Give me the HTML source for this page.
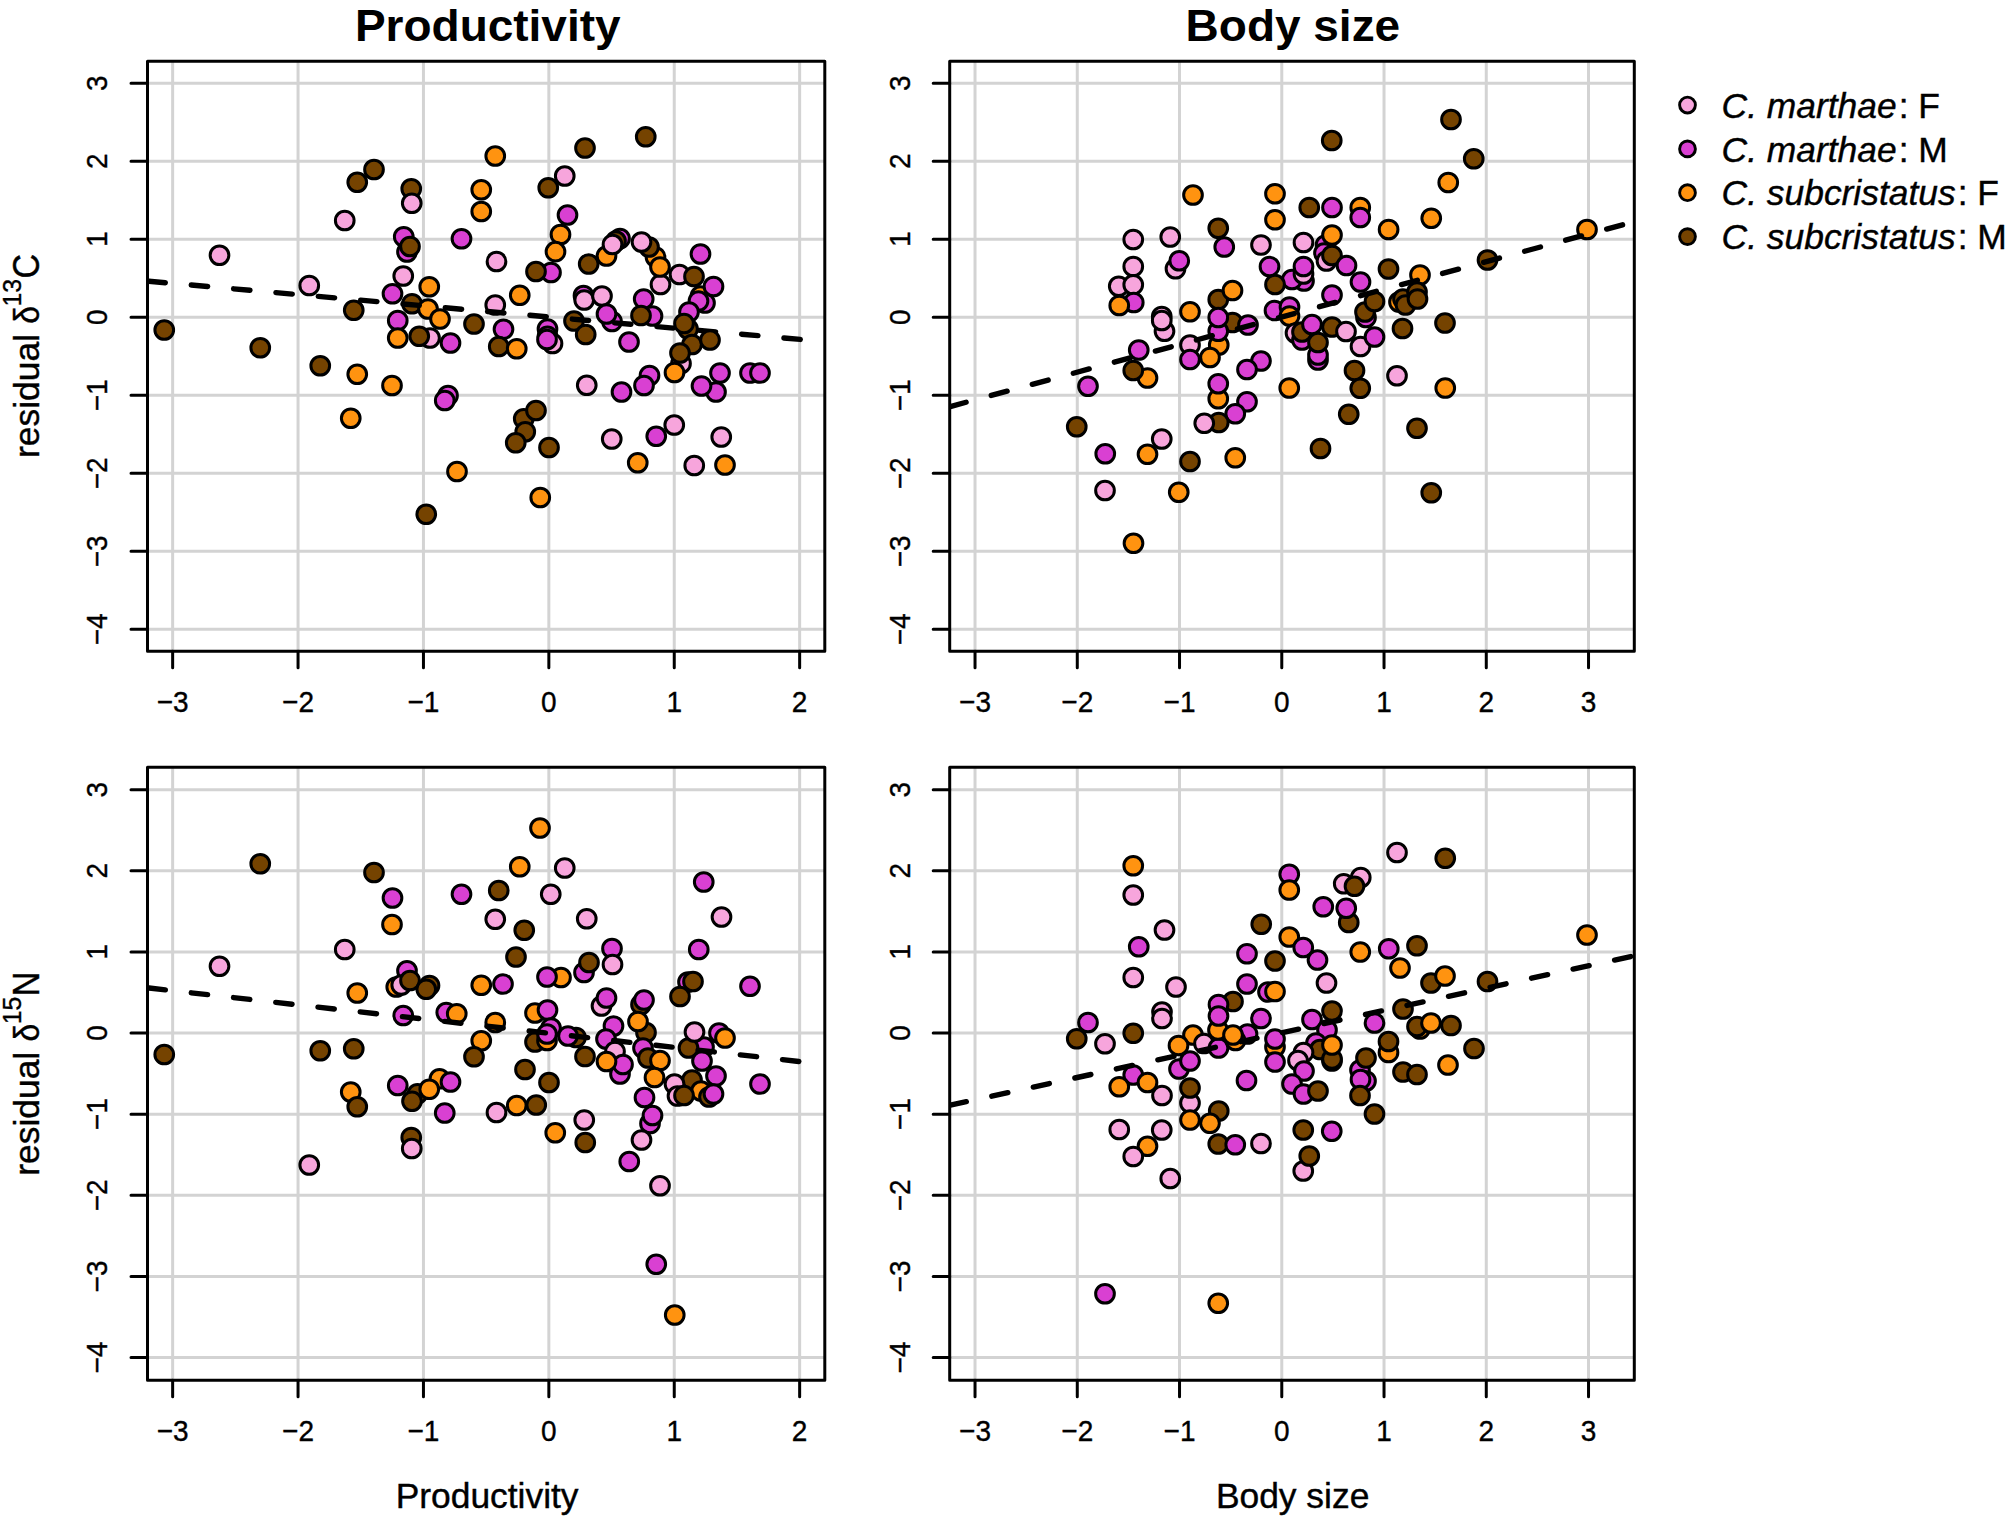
<!DOCTYPE html>
<html lang="en"><head><meta charset="utf-8"><title>Residual isotope values vs productivity and body size</title>
<style>html,body{margin:0;padding:0;background:#fff}svg{display:block}text{font-family:"Liberation Sans", Arial, Helvetica, sans-serif;fill:#000}.pt circle{stroke:#000;stroke-width:3}.cP{fill:#F7A5DC}.cM{fill:#D940D2}.cO{fill:#FF9310}.cB{fill:#754300}.ax{font-size:28px;stroke:#000;stroke-width:.35px}.sup{font-size:24.8px;stroke:#000;stroke-width:.35px}.lab{font-size:35.4px;stroke:#000;stroke-width:.4px}.ttl{font-size:44.6px;font-weight:bold}.fr{fill:none;stroke:#000;stroke-width:3;stroke-linejoin:round}.tk{stroke:#000;stroke-width:3;stroke-linecap:round;fill:none}.gr{stroke:#D3D3D3;stroke-width:3;fill:none}.rl{stroke:#000;stroke-width:5.4;stroke-linecap:round;fill:none}</style></head><body>
<svg width="2006" height="1520" viewBox="0 0 2006 1520">
<rect width="2006" height="1520" fill="#fff"/>
<defs><clipPath id="cp1"><rect x="147.5" y="61.3" width="677.3" height="589.9"/></clipPath></defs>
<g clip-path="url(#cp1)">
<path class="gr" d="M172.65 61.3V651.2M298.05 61.3V651.2M423.45 61.3V651.2M548.85 61.3V651.2M674.25 61.3V651.2M799.65 61.3V651.2M147.5 629.37H824.8M147.5 551.34H824.8M147.5 473.31H824.8M147.5 395.28H824.8M147.5 317.25H824.8M147.5 239.22H824.8M147.5 161.19H824.8M147.5 83.16H824.8"/>
<g class="pt">
<circle class="cB" cx="164.25" cy="330" r="9.35"/>
<circle class="cP" cx="219.5" cy="255.25" r="9.35"/>
<circle class="cB" cx="260.25" cy="347.75" r="9.35"/>
<circle class="cB" cx="320.25" cy="365.75" r="9.35"/>
<circle class="cP" cx="344.75" cy="220.5" r="9.35"/>
<circle class="cB" cx="357.25" cy="182.25" r="9.35"/>
<circle class="cB" cx="374" cy="169.5" r="9.35"/>
<circle class="cB" cx="353.75" cy="310.25" r="9.35"/>
<circle class="cO" cx="357.25" cy="374.25" r="9.35"/>
<circle class="cO" cx="350.75" cy="418.25" r="9.35"/>
<circle class="cO" cx="392" cy="385.5" r="9.35"/>
<circle class="cB" cx="411.25" cy="188.75" r="9.35"/>
<circle class="cP" cx="411.75" cy="203.25" r="9.35"/>
<circle class="cM" cx="403.75" cy="236.75" r="9.35"/>
<circle class="cM" cx="407" cy="252" r="9.35"/>
<circle class="cB" cx="410" cy="246.5" r="9.35"/>
<circle class="cP" cx="403.25" cy="276" r="9.35"/>
<circle class="cM" cx="392.5" cy="293.75" r="9.35"/>
<circle class="cO" cx="429.25" cy="286.75" r="9.35"/>
<circle class="cB" cx="412" cy="303.75" r="9.35"/>
<circle class="cO" cx="428" cy="309" r="9.35"/>
<circle class="cO" cx="440" cy="319" r="9.35"/>
<circle class="cM" cx="397.75" cy="320.5" r="9.35"/>
<circle class="cO" cx="397.75" cy="338" r="9.35"/>
<circle class="cP" cx="430" cy="338" r="9.35"/>
<circle class="cB" cx="419.25" cy="336.25" r="9.35"/>
<circle class="cM" cx="450.5" cy="343" r="9.35"/>
<circle class="cB" cx="474" cy="324" r="9.35"/>
<circle class="cM" cx="461.5" cy="238.75" r="9.35"/>
<circle class="cO" cx="481.25" cy="189.75" r="9.35"/>
<circle class="cO" cx="481.25" cy="211.5" r="9.35"/>
<circle class="cO" cx="495.25" cy="156" r="9.35"/>
<circle class="cP" cx="496.5" cy="261.5" r="9.35"/>
<circle class="cP" cx="495.25" cy="305" r="9.35"/>
<circle class="cM" cx="503.5" cy="329.25" r="9.35"/>
<circle class="cB" cx="498.75" cy="346.5" r="9.35"/>
<circle class="cO" cx="516.75" cy="348.75" r="9.35"/>
<circle class="cO" cx="519.75" cy="295.25" r="9.35"/>
<circle class="cM" cx="448" cy="395.5" r="9.35"/>
<circle class="cM" cx="444.75" cy="400.5" r="9.35"/>
<circle class="cM" cx="551" cy="272.5" r="9.35"/>
<circle class="cB" cx="536" cy="271.5" r="9.35"/>
<circle class="cB" cx="548.25" cy="187.75" r="9.35"/>
<circle class="cP" cx="564.75" cy="176" r="9.35"/>
<circle class="cM" cx="567.5" cy="215" r="9.35"/>
<circle class="cO" cx="560.5" cy="234.5" r="9.35"/>
<circle class="cO" cx="555.5" cy="251.7" r="9.35"/>
<circle class="cB" cx="585" cy="148" r="9.35"/>
<circle class="cB" cx="588.7" cy="264" r="9.35"/>
<circle class="cO" cx="606.5" cy="256" r="9.35"/>
<circle class="cM" cx="620" cy="238.5" r="9.35"/>
<circle class="cB" cx="616" cy="241" r="9.35"/>
<circle class="cP" cx="612.5" cy="244.5" r="9.35"/>
<circle class="cO" cx="655.5" cy="257" r="9.35"/>
<circle class="cB" cx="649" cy="247" r="9.35"/>
<circle class="cP" cx="641.5" cy="242" r="9.35"/>
<circle class="cP" cx="660.5" cy="284.5" r="9.35"/>
<circle class="cO" cx="660" cy="267" r="9.35"/>
<circle class="cP" cx="679.5" cy="274.5" r="9.35"/>
<circle class="cB" cx="694" cy="276.5" r="9.35"/>
<circle class="cM" cx="700.5" cy="254" r="9.35"/>
<circle class="cM" cx="583.5" cy="295.5" r="9.35"/>
<circle class="cP" cx="584.2" cy="300" r="9.35"/>
<circle class="cP" cx="602" cy="296" r="9.35"/>
<circle class="cM" cx="612" cy="321.5" r="9.35"/>
<circle class="cM" cx="606.5" cy="314" r="9.35"/>
<circle class="cB" cx="574" cy="321" r="9.35"/>
<circle class="cB" cx="585.7" cy="334.5" r="9.35"/>
<circle class="cM" cx="643.7" cy="299" r="9.35"/>
<circle class="cM" cx="652.5" cy="316" r="9.35"/>
<circle class="cM" cx="629" cy="342" r="9.35"/>
<circle class="cO" cx="700.5" cy="296" r="9.35"/>
<circle class="cM" cx="705" cy="303" r="9.35"/>
<circle class="cM" cx="698.5" cy="301" r="9.35"/>
<circle class="cM" cx="713.5" cy="286.5" r="9.35"/>
<circle class="cM" cx="689" cy="312" r="9.35"/>
<circle class="cB" cx="688" cy="329" r="9.35"/>
<circle class="cB" cx="692" cy="344.5" r="9.35"/>
<circle class="cP" cx="681" cy="363.5" r="9.35"/>
<circle class="cB" cx="680" cy="353" r="9.35"/>
<circle class="cO" cx="674.5" cy="372.5" r="9.35"/>
<circle class="cM" cx="547.5" cy="329" r="9.35"/>
<circle class="cM" cx="547.5" cy="336.3" r="9.35"/>
<circle class="cP" cx="552.5" cy="343.5" r="9.35"/>
<circle class="cM" cx="547" cy="339.5" r="9.35"/>
<circle class="cM" cx="649.5" cy="375.5" r="9.35"/>
<circle class="cM" cx="644" cy="385.5" r="9.35"/>
<circle class="cM" cx="621.5" cy="392" r="9.35"/>
<circle class="cM" cx="716" cy="392" r="9.35"/>
<circle class="cM" cx="701.5" cy="386" r="9.35"/>
<circle class="cM" cx="720" cy="373" r="9.35"/>
<circle class="cM" cx="750" cy="373" r="9.35"/>
<circle class="cM" cx="760" cy="373" r="9.35"/>
<circle class="cP" cx="586.75" cy="385.25" r="9.35"/>
<circle class="cB" cx="523.75" cy="418.75" r="9.35"/>
<circle class="cB" cx="536" cy="410.5" r="9.35"/>
<circle class="cB" cx="525.25" cy="431.75" r="9.35"/>
<circle class="cB" cx="515.75" cy="442.75" r="9.35"/>
<circle class="cB" cx="549" cy="447.5" r="9.35"/>
<circle class="cP" cx="611.75" cy="439" r="9.35"/>
<circle class="cP" cx="674.25" cy="425" r="9.35"/>
<circle class="cM" cx="656.25" cy="436.25" r="9.35"/>
<circle class="cP" cx="721.25" cy="437" r="9.35"/>
<circle class="cO" cx="457" cy="471.5" r="9.35"/>
<circle class="cO" cx="637.75" cy="462.75" r="9.35"/>
<circle class="cP" cx="694.25" cy="465.5" r="9.35"/>
<circle class="cO" cx="725" cy="465" r="9.35"/>
<circle class="cO" cx="540.25" cy="497.5" r="9.35"/>
<circle class="cB" cx="426.25" cy="514.25" r="9.35"/>
<circle class="cB" cx="645.75" cy="136.75" r="9.35"/>
</g>
<path class="rl" stroke-dasharray="16.4 26.1" stroke-dashoffset="-1.46" d="M147.5 281.14L824.5 341.59"/>
<g class="pt">
<circle class="cP" cx="309.25" cy="285.5" r="9.35"/>
<circle class="cB" cx="641" cy="315.5" r="9.35"/>
<circle class="cB" cx="684" cy="323.5" r="9.35"/>
<circle class="cB" cx="710" cy="340" r="9.35"/>
</g>
</g>
<rect class="fr" x="147.5" y="61.3" width="677.3" height="589.9"/>
<path class="tk" d="M172.65 651.2V667.7M298.05 651.2V667.7M423.45 651.2V667.7M548.85 651.2V667.7M674.25 651.2V667.7M799.65 651.2V667.7M147.5 629.37H131M147.5 551.34H131M147.5 473.31H131M147.5 395.28H131M147.5 317.25H131M147.5 239.22H131M147.5 161.19H131M147.5 83.16H131"/>
<text class="ax" text-anchor="middle" transform="translate(172.65 711.7) scale(1 1.06)">−3</text>
<text class="ax" text-anchor="middle" transform="translate(298.05 711.7) scale(1 1.06)">−2</text>
<text class="ax" text-anchor="middle" transform="translate(423.45 711.7) scale(1 1.06)">−1</text>
<text class="ax" text-anchor="middle" transform="translate(548.85 711.7) scale(1 1.06)">0</text>
<text class="ax" text-anchor="middle" transform="translate(674.25 711.7) scale(1 1.06)">1</text>
<text class="ax" text-anchor="middle" transform="translate(799.65 711.7) scale(1 1.06)">2</text>
<text class="ax" text-anchor="middle" transform="translate(107.3 629.37) rotate(-90) scale(1 1.06)">−4</text>
<text class="ax" text-anchor="middle" transform="translate(107.3 551.34) rotate(-90) scale(1 1.06)">−3</text>
<text class="ax" text-anchor="middle" transform="translate(107.3 473.31) rotate(-90) scale(1 1.06)">−2</text>
<text class="ax" text-anchor="middle" transform="translate(107.3 395.28) rotate(-90) scale(1 1.06)">−1</text>
<text class="ax" text-anchor="middle" transform="translate(107.3 317.25) rotate(-90) scale(1 1.06)">0</text>
<text class="ax" text-anchor="middle" transform="translate(107.3 239.22) rotate(-90) scale(1 1.06)">1</text>
<text class="ax" text-anchor="middle" transform="translate(107.3 161.19) rotate(-90) scale(1 1.06)">2</text>
<text class="ax" text-anchor="middle" transform="translate(107.3 83.16) rotate(-90) scale(1 1.06)">3</text>
<defs><clipPath id="cp2"><rect x="949.7" y="61.3" width="684.6" height="589.9"/></clipPath></defs>
<g clip-path="url(#cp2)">
<path class="gr" d="M975.03 61.3V651.2M1077.28 61.3V651.2M1179.53 61.3V651.2M1281.78 61.3V651.2M1384.03 61.3V651.2M1486.28 61.3V651.2M1588.53 61.3V651.2M949.7 629.37H1634.3M949.7 551.34H1634.3M949.7 473.31H1634.3M949.7 395.28H1634.3M949.7 317.25H1634.3M949.7 239.22H1634.3M949.7 161.19H1634.3M949.7 83.16H1634.3"/>
<g class="pt">
<circle class="cM" cx="1088" cy="386.25" r="9.35"/>
<circle class="cB" cx="1076.75" cy="426.75" r="9.35"/>
<circle class="cM" cx="1105.25" cy="453.75" r="9.35"/>
<circle class="cP" cx="1105" cy="490.5" r="9.35"/>
<circle class="cO" cx="1133.5" cy="543.25" r="9.35"/>
<circle class="cB" cx="1451" cy="119.5" r="9.35"/>
<circle class="cB" cx="1331.75" cy="140.5" r="9.35"/>
<circle class="cB" cx="1473.75" cy="158.75" r="9.35"/>
<circle class="cO" cx="1448.25" cy="182.5" r="9.35"/>
<circle class="cO" cx="1193" cy="195" r="9.35"/>
<circle class="cO" cx="1275" cy="193.75" r="9.35"/>
<circle class="cO" cx="1275" cy="219.75" r="9.35"/>
<circle class="cB" cx="1309.25" cy="207.5" r="9.35"/>
<circle class="cM" cx="1332" cy="207.5" r="9.35"/>
<circle class="cO" cx="1360.25" cy="207.5" r="9.35"/>
<circle class="cM" cx="1360.25" cy="217.5" r="9.35"/>
<circle class="cO" cx="1431.25" cy="218.25" r="9.35"/>
<circle class="cO" cx="1388.6" cy="229.5" r="9.35"/>
<circle class="cO" cx="1587" cy="229.5" r="9.35"/>
<circle class="cB" cx="1218.25" cy="228.25" r="9.35"/>
<circle class="cM" cx="1224.25" cy="247" r="9.35"/>
<circle class="cP" cx="1133.25" cy="239.5" r="9.35"/>
<circle class="cP" cx="1170.25" cy="237" r="9.35"/>
<circle class="cP" cx="1133.25" cy="266.5" r="9.35"/>
<circle class="cP" cx="1175.5" cy="268.75" r="9.35"/>
<circle class="cM" cx="1179.25" cy="260.75" r="9.35"/>
<circle class="cP" cx="1118.75" cy="286.25" r="9.35"/>
<circle class="cP" cx="1133.25" cy="284.75" r="9.35"/>
<circle class="cM" cx="1133.75" cy="302.5" r="9.35"/>
<circle class="cO" cx="1119.25" cy="305.5" r="9.35"/>
<circle class="cP" cx="1261" cy="245" r="9.35"/>
<circle class="cP" cx="1303.5" cy="242.5" r="9.35"/>
<circle class="cM" cx="1325.5" cy="245" r="9.35"/>
<circle class="cO" cx="1332" cy="235" r="9.35"/>
<circle class="cM" cx="1324" cy="253" r="9.35"/>
<circle class="cP" cx="1326.5" cy="261" r="9.35"/>
<circle class="cB" cx="1332" cy="255.5" r="9.35"/>
<circle class="cM" cx="1346.5" cy="265.5" r="9.35"/>
<circle class="cM" cx="1269.5" cy="266.5" r="9.35"/>
<circle class="cM" cx="1304" cy="281" r="9.35"/>
<circle class="cM" cx="1292" cy="279.5" r="9.35"/>
<circle class="cP" cx="1303.5" cy="274" r="9.35"/>
<circle class="cM" cx="1303.5" cy="266.5" r="9.35"/>
<circle class="cB" cx="1275" cy="284.5" r="9.35"/>
<circle class="cM" cx="1360.5" cy="282" r="9.35"/>
<circle class="cM" cx="1332" cy="295" r="9.35"/>
<circle class="cB" cx="1388.5" cy="269" r="9.35"/>
<circle class="cO" cx="1420" cy="275" r="9.35"/>
<circle class="cB" cx="1487.5" cy="260" r="9.35"/>
<circle class="cB" cx="1218.25" cy="299.5" r="9.35"/>
<circle class="cO" cx="1232.5" cy="290.5" r="9.35"/>
<circle class="cO" cx="1190" cy="311.75" r="9.35"/>
<circle class="cP" cx="1164.5" cy="331.25" r="9.35"/>
<circle class="cP" cx="1161.75" cy="316.5" r="9.35"/>
<circle class="cP" cx="1161.75" cy="320.5" r="9.35"/>
<circle class="cB" cx="1232.5" cy="322.5" r="9.35"/>
<circle class="cO" cx="1218.75" cy="345" r="9.35"/>
<circle class="cM" cx="1218.25" cy="331.25" r="9.35"/>
<circle class="cM" cx="1218.25" cy="317.5" r="9.35"/>
<circle class="cM" cx="1248" cy="325" r="9.35"/>
<circle class="cO" cx="1210" cy="357.5" r="9.35"/>
<circle class="cP" cx="1190" cy="345" r="9.35"/>
<circle class="cM" cx="1190" cy="359.5" r="9.35"/>
<circle class="cM" cx="1138.75" cy="350" r="9.35"/>
<circle class="cO" cx="1147.5" cy="378" r="9.35"/>
<circle class="cB" cx="1133.25" cy="370.5" r="9.35"/>
<circle class="cM" cx="1274.5" cy="310.5" r="9.35"/>
<circle class="cM" cx="1289.5" cy="307" r="9.35"/>
<circle class="cO" cx="1289.5" cy="316" r="9.35"/>
<circle class="cP" cx="1295.5" cy="333" r="9.35"/>
<circle class="cM" cx="1302" cy="340" r="9.35"/>
<circle class="cB" cx="1302" cy="332" r="9.35"/>
<circle class="cB" cx="1332" cy="327" r="9.35"/>
<circle class="cP" cx="1346" cy="331.5" r="9.35"/>
<circle class="cM" cx="1312" cy="324.5" r="9.35"/>
<circle class="cM" cx="1318" cy="360" r="9.35"/>
<circle class="cM" cx="1318" cy="355" r="9.35"/>
<circle class="cB" cx="1318" cy="342.5" r="9.35"/>
<circle class="cP" cx="1360.5" cy="346.5" r="9.35"/>
<circle class="cM" cx="1374.5" cy="337" r="9.35"/>
<circle class="cM" cx="1366" cy="317.5" r="9.35"/>
<circle class="cB" cx="1365" cy="312" r="9.35"/>
<circle class="cB" cx="1374.5" cy="301.5" r="9.35"/>
<circle class="cO" cx="1399" cy="302" r="9.35"/>
<circle class="cB" cx="1403" cy="299" r="9.35"/>
<circle class="cB" cx="1405.5" cy="305" r="9.35"/>
<circle class="cB" cx="1417" cy="292" r="9.35"/>
<circle class="cB" cx="1417.5" cy="299" r="9.35"/>
<circle class="cB" cx="1402.5" cy="328.5" r="9.35"/>
<circle class="cB" cx="1445" cy="323" r="9.35"/>
<circle class="cM" cx="1261" cy="361" r="9.35"/>
<circle class="cM" cx="1247" cy="369.5" r="9.35"/>
<circle class="cO" cx="1218.25" cy="398.75" r="9.35"/>
<circle class="cM" cx="1218.25" cy="383.75" r="9.35"/>
<circle class="cM" cx="1247" cy="401.75" r="9.35"/>
<circle class="cM" cx="1235.25" cy="413.75" r="9.35"/>
<circle class="cB" cx="1218.75" cy="422.5" r="9.35"/>
<circle class="cP" cx="1204.25" cy="423.25" r="9.35"/>
<circle class="cP" cx="1161.75" cy="439" r="9.35"/>
<circle class="cO" cx="1147.5" cy="454.25" r="9.35"/>
<circle class="cB" cx="1190" cy="461.5" r="9.35"/>
<circle class="cO" cx="1235.25" cy="457.75" r="9.35"/>
<circle class="cO" cx="1289.25" cy="388" r="9.35"/>
<circle class="cB" cx="1354.5" cy="370.5" r="9.35"/>
<circle class="cB" cx="1360.25" cy="388.25" r="9.35"/>
<circle class="cB" cx="1348.75" cy="414.25" r="9.35"/>
<circle class="cB" cx="1320.5" cy="448.5" r="9.35"/>
<circle class="cP" cx="1397" cy="375.75" r="9.35"/>
<circle class="cO" cx="1445.25" cy="388" r="9.35"/>
<circle class="cB" cx="1417" cy="428.25" r="9.35"/>
<circle class="cO" cx="1178.75" cy="492.25" r="9.35"/>
<circle class="cB" cx="1431.25" cy="492.75" r="9.35"/>
</g>
<path class="rl" stroke-dasharray="16.4 26.1" stroke-dashoffset="-0.26" d="M950 406.59L1634.5 221.57"/>
</g>
<rect class="fr" x="949.7" y="61.3" width="684.6" height="589.9"/>
<path class="tk" d="M975.03 651.2V667.7M1077.28 651.2V667.7M1179.53 651.2V667.7M1281.78 651.2V667.7M1384.03 651.2V667.7M1486.28 651.2V667.7M1588.53 651.2V667.7M949.7 629.37H933.2M949.7 551.34H933.2M949.7 473.31H933.2M949.7 395.28H933.2M949.7 317.25H933.2M949.7 239.22H933.2M949.7 161.19H933.2M949.7 83.16H933.2"/>
<text class="ax" text-anchor="middle" transform="translate(975.03 711.7) scale(1 1.06)">−3</text>
<text class="ax" text-anchor="middle" transform="translate(1077.28 711.7) scale(1 1.06)">−2</text>
<text class="ax" text-anchor="middle" transform="translate(1179.53 711.7) scale(1 1.06)">−1</text>
<text class="ax" text-anchor="middle" transform="translate(1281.78 711.7) scale(1 1.06)">0</text>
<text class="ax" text-anchor="middle" transform="translate(1384.03 711.7) scale(1 1.06)">1</text>
<text class="ax" text-anchor="middle" transform="translate(1486.28 711.7) scale(1 1.06)">2</text>
<text class="ax" text-anchor="middle" transform="translate(1588.53 711.7) scale(1 1.06)">3</text>
<text class="ax" text-anchor="middle" transform="translate(909.5 629.37) rotate(-90) scale(1 1.06)">−4</text>
<text class="ax" text-anchor="middle" transform="translate(909.5 551.34) rotate(-90) scale(1 1.06)">−3</text>
<text class="ax" text-anchor="middle" transform="translate(909.5 473.31) rotate(-90) scale(1 1.06)">−2</text>
<text class="ax" text-anchor="middle" transform="translate(909.5 395.28) rotate(-90) scale(1 1.06)">−1</text>
<text class="ax" text-anchor="middle" transform="translate(909.5 317.25) rotate(-90) scale(1 1.06)">0</text>
<text class="ax" text-anchor="middle" transform="translate(909.5 239.22) rotate(-90) scale(1 1.06)">1</text>
<text class="ax" text-anchor="middle" transform="translate(909.5 161.19) rotate(-90) scale(1 1.06)">2</text>
<text class="ax" text-anchor="middle" transform="translate(909.5 83.16) rotate(-90) scale(1 1.06)">3</text>
<defs><clipPath id="cp3"><rect x="147.5" y="767.3" width="677.3" height="612.9"/></clipPath></defs>
<g clip-path="url(#cp3)">
<path class="gr" d="M172.65 767.3V1380.2M298.05 767.3V1380.2M423.45 767.3V1380.2M548.85 767.3V1380.2M674.25 767.3V1380.2M799.65 767.3V1380.2M147.5 1357.57H824.8M147.5 1276.44H824.8M147.5 1195.31H824.8M147.5 1114.18H824.8M147.5 1033.05H824.8M147.5 951.92H824.8M147.5 870.79H824.8M147.5 789.66H824.8"/>
<g class="pt">
<circle class="cB" cx="164.25" cy="1054.5" r="9.35"/>
<circle class="cP" cx="219.5" cy="966.25" r="9.35"/>
<circle class="cB" cx="260.25" cy="863.75" r="9.35"/>
<circle class="cP" cx="309.25" cy="1165" r="9.35"/>
<circle class="cB" cx="320.25" cy="1050.75" r="9.35"/>
<circle class="cP" cx="344.75" cy="949.5" r="9.35"/>
<circle class="cB" cx="353.75" cy="1048.75" r="9.35"/>
<circle class="cO" cx="357.25" cy="993" r="9.35"/>
<circle class="cO" cx="350.75" cy="1092" r="9.35"/>
<circle class="cB" cx="357.25" cy="1106.75" r="9.35"/>
<circle class="cB" cx="374" cy="872.5" r="9.35"/>
<circle class="cM" cx="392.5" cy="898" r="9.35"/>
<circle class="cO" cx="392" cy="924.5" r="9.35"/>
<circle class="cM" cx="407" cy="970.75" r="9.35"/>
<circle class="cO" cx="396.25" cy="987" r="9.35"/>
<circle class="cP" cx="401.25" cy="985" r="9.35"/>
<circle class="cB" cx="410" cy="980.5" r="9.35"/>
<circle class="cB" cx="429.5" cy="985.5" r="9.35"/>
<circle class="cB" cx="426.25" cy="989.25" r="9.35"/>
<circle class="cM" cx="403.25" cy="1015.5" r="9.35"/>
<circle class="cM" cx="446.25" cy="1012.5" r="9.35"/>
<circle class="cO" cx="456.75" cy="1013.75" r="9.35"/>
<circle class="cM" cx="397.75" cy="1085.5" r="9.35"/>
<circle class="cB" cx="417.5" cy="1093.75" r="9.35"/>
<circle class="cO" cx="439.5" cy="1078.75" r="9.35"/>
<circle class="cO" cx="429.25" cy="1089.25" r="9.35"/>
<circle class="cM" cx="450.5" cy="1082" r="9.35"/>
<circle class="cB" cx="412" cy="1101.25" r="9.35"/>
<circle class="cM" cx="444.75" cy="1113" r="9.35"/>
<circle class="cB" cx="411.25" cy="1137.5" r="9.35"/>
<circle class="cP" cx="411.75" cy="1148.5" r="9.35"/>
<circle class="cM" cx="461.5" cy="894.25" r="9.35"/>
<circle class="cB" cx="498.75" cy="890.5" r="9.35"/>
<circle class="cO" cx="519.75" cy="866.75" r="9.35"/>
<circle class="cO" cx="540" cy="828" r="9.35"/>
<circle class="cP" cx="564.75" cy="868" r="9.35"/>
<circle class="cP" cx="550.75" cy="894.25" r="9.35"/>
<circle class="cP" cx="495.25" cy="919.25" r="9.35"/>
<circle class="cP" cx="586.75" cy="918.75" r="9.35"/>
<circle class="cB" cx="524.25" cy="930.25" r="9.35"/>
<circle class="cB" cx="516" cy="957" r="9.35"/>
<circle class="cO" cx="481.25" cy="985.25" r="9.35"/>
<circle class="cM" cx="503" cy="984" r="9.35"/>
<circle class="cO" cx="561" cy="977.5" r="9.35"/>
<circle class="cM" cx="547" cy="977" r="9.35"/>
<circle class="cM" cx="584" cy="972.5" r="9.35"/>
<circle class="cB" cx="589" cy="962.5" r="9.35"/>
<circle class="cM" cx="612" cy="948.5" r="9.35"/>
<circle class="cP" cx="612.5" cy="964.5" r="9.35"/>
<circle class="cP" cx="601.5" cy="1006" r="9.35"/>
<circle class="cM" cx="606.5" cy="998" r="9.35"/>
<circle class="cO" cx="535" cy="1013" r="9.35"/>
<circle class="cM" cx="547.5" cy="1010" r="9.35"/>
<circle class="cO" cx="495.25" cy="1022.5" r="9.35"/>
<circle class="cO" cx="481.25" cy="1040.75" r="9.35"/>
<circle class="cB" cx="474" cy="1056.75" r="9.35"/>
<circle class="cM" cx="551" cy="1028" r="9.35"/>
<circle class="cB" cx="535" cy="1042" r="9.35"/>
<circle class="cO" cx="547" cy="1040.5" r="9.35"/>
<circle class="cM" cx="547" cy="1034" r="9.35"/>
<circle class="cB" cx="576" cy="1037.5" r="9.35"/>
<circle class="cM" cx="568" cy="1036" r="9.35"/>
<circle class="cB" cx="585" cy="1056.5" r="9.35"/>
<circle class="cM" cx="613.5" cy="1026" r="9.35"/>
<circle class="cM" cx="606" cy="1039" r="9.35"/>
<circle class="cP" cx="615" cy="1051.5" r="9.35"/>
<circle class="cM" cx="620" cy="1074" r="9.35"/>
<circle class="cM" cx="623" cy="1064.5" r="9.35"/>
<circle class="cO" cx="606.5" cy="1061.5" r="9.35"/>
<circle class="cB" cx="525" cy="1069.5" r="9.35"/>
<circle class="cB" cx="549" cy="1082.5" r="9.35"/>
<circle class="cP" cx="496.5" cy="1112.5" r="9.35"/>
<circle class="cO" cx="516.75" cy="1105.5" r="9.35"/>
<circle class="cB" cx="536.25" cy="1105" r="9.35"/>
<circle class="cP" cx="584.25" cy="1120" r="9.35"/>
<circle class="cO" cx="555.25" cy="1132.75" r="9.35"/>
<circle class="cB" cx="585.25" cy="1142.5" r="9.35"/>
<circle class="cM" cx="629.25" cy="1161.5" r="9.35"/>
<circle class="cB" cx="641" cy="1004.5" r="9.35"/>
<circle class="cM" cx="644" cy="1000" r="9.35"/>
<circle class="cM" cx="688" cy="982" r="9.35"/>
<circle class="cB" cx="680" cy="996.5" r="9.35"/>
<circle class="cB" cx="693" cy="981.5" r="9.35"/>
<circle class="cB" cx="646" cy="1032.5" r="9.35"/>
<circle class="cO" cx="638" cy="1021.5" r="9.35"/>
<circle class="cM" cx="643" cy="1048" r="9.35"/>
<circle class="cB" cx="648" cy="1058" r="9.35"/>
<circle class="cO" cx="660" cy="1060.5" r="9.35"/>
<circle class="cO" cx="654.5" cy="1077.5" r="9.35"/>
<circle class="cM" cx="704" cy="1047" r="9.35"/>
<circle class="cB" cx="688.5" cy="1048" r="9.35"/>
<circle class="cP" cx="694.5" cy="1032" r="9.35"/>
<circle class="cM" cx="702" cy="1061" r="9.35"/>
<circle class="cM" cx="719" cy="1033" r="9.35"/>
<circle class="cO" cx="725" cy="1038" r="9.35"/>
<circle class="cM" cx="716" cy="1076" r="9.35"/>
<circle class="cB" cx="692" cy="1080" r="9.35"/>
<circle class="cO" cx="701" cy="1091" r="9.35"/>
<circle class="cB" cx="709" cy="1097" r="9.35"/>
<circle class="cM" cx="713.5" cy="1094" r="9.35"/>
<circle class="cP" cx="674.5" cy="1084" r="9.35"/>
<circle class="cP" cx="677.5" cy="1096" r="9.35"/>
<circle class="cB" cx="684" cy="1095.5" r="9.35"/>
<circle class="cM" cx="760" cy="1084" r="9.35"/>
<circle class="cM" cx="644.5" cy="1097.5" r="9.35"/>
<circle class="cM" cx="650" cy="1123.5" r="9.35"/>
<circle class="cM" cx="652.5" cy="1115.5" r="9.35"/>
<circle class="cP" cx="641.5" cy="1140" r="9.35"/>
<circle class="cM" cx="703.75" cy="882" r="9.35"/>
<circle class="cP" cx="721.5" cy="917" r="9.35"/>
<circle class="cM" cx="698.75" cy="949.5" r="9.35"/>
<circle class="cM" cx="750" cy="986.25" r="9.35"/>
<circle class="cP" cx="660" cy="1185.75" r="9.35"/>
<circle class="cM" cx="656.25" cy="1264.25" r="9.35"/>
<circle class="cO" cx="674.75" cy="1315" r="9.35"/>
</g>
<path class="rl" stroke-dasharray="16.4 26.1" stroke-dashoffset="-1.57" d="M147.5 987.86L824.5 1064.36"/>
</g>
<rect class="fr" x="147.5" y="767.3" width="677.3" height="612.9"/>
<path class="tk" d="M172.65 1380.2V1396.7M298.05 1380.2V1396.7M423.45 1380.2V1396.7M548.85 1380.2V1396.7M674.25 1380.2V1396.7M799.65 1380.2V1396.7M147.5 1357.57H131M147.5 1276.44H131M147.5 1195.31H131M147.5 1114.18H131M147.5 1033.05H131M147.5 951.92H131M147.5 870.79H131M147.5 789.66H131"/>
<text class="ax" text-anchor="middle" transform="translate(172.65 1440.7) scale(1 1.06)">−3</text>
<text class="ax" text-anchor="middle" transform="translate(298.05 1440.7) scale(1 1.06)">−2</text>
<text class="ax" text-anchor="middle" transform="translate(423.45 1440.7) scale(1 1.06)">−1</text>
<text class="ax" text-anchor="middle" transform="translate(548.85 1440.7) scale(1 1.06)">0</text>
<text class="ax" text-anchor="middle" transform="translate(674.25 1440.7) scale(1 1.06)">1</text>
<text class="ax" text-anchor="middle" transform="translate(799.65 1440.7) scale(1 1.06)">2</text>
<text class="ax" text-anchor="middle" transform="translate(107.3 1357.57) rotate(-90) scale(1 1.06)">−4</text>
<text class="ax" text-anchor="middle" transform="translate(107.3 1276.44) rotate(-90) scale(1 1.06)">−3</text>
<text class="ax" text-anchor="middle" transform="translate(107.3 1195.31) rotate(-90) scale(1 1.06)">−2</text>
<text class="ax" text-anchor="middle" transform="translate(107.3 1114.18) rotate(-90) scale(1 1.06)">−1</text>
<text class="ax" text-anchor="middle" transform="translate(107.3 1033.05) rotate(-90) scale(1 1.06)">0</text>
<text class="ax" text-anchor="middle" transform="translate(107.3 951.92) rotate(-90) scale(1 1.06)">1</text>
<text class="ax" text-anchor="middle" transform="translate(107.3 870.79) rotate(-90) scale(1 1.06)">2</text>
<text class="ax" text-anchor="middle" transform="translate(107.3 789.66) rotate(-90) scale(1 1.06)">3</text>
<defs><clipPath id="cp4"><rect x="949.7" y="767.3" width="684.6" height="612.9"/></clipPath></defs>
<g clip-path="url(#cp4)">
<path class="gr" d="M975.03 767.3V1380.2M1077.28 767.3V1380.2M1179.53 767.3V1380.2M1281.78 767.3V1380.2M1384.03 767.3V1380.2M1486.28 767.3V1380.2M1588.53 767.3V1380.2M949.7 1357.57H1634.3M949.7 1276.44H1634.3M949.7 1195.31H1634.3M949.7 1114.18H1634.3M949.7 1033.05H1634.3M949.7 951.92H1634.3M949.7 870.79H1634.3M949.7 789.66H1634.3"/>
<g class="pt">
<circle class="cM" cx="1088" cy="1022.5" r="9.35"/>
<circle class="cB" cx="1076.75" cy="1038.75" r="9.35"/>
<circle class="cP" cx="1105" cy="1043.75" r="9.35"/>
<circle class="cM" cx="1105" cy="1293.75" r="9.35"/>
<circle class="cO" cx="1133.25" cy="865.75" r="9.35"/>
<circle class="cP" cx="1133.25" cy="895" r="9.35"/>
<circle class="cP" cx="1164.5" cy="930" r="9.35"/>
<circle class="cM" cx="1138.75" cy="946.75" r="9.35"/>
<circle class="cP" cx="1133.25" cy="977.5" r="9.35"/>
<circle class="cP" cx="1176" cy="987" r="9.35"/>
<circle class="cP" cx="1162" cy="1012" r="9.35"/>
<circle class="cP" cx="1162" cy="1018.5" r="9.35"/>
<circle class="cB" cx="1133.25" cy="1033.25" r="9.35"/>
<circle class="cM" cx="1133.25" cy="1075" r="9.35"/>
<circle class="cO" cx="1119.25" cy="1086.75" r="9.35"/>
<circle class="cO" cx="1147.5" cy="1082.5" r="9.35"/>
<circle class="cP" cx="1162" cy="1095.5" r="9.35"/>
<circle class="cP" cx="1119.25" cy="1129.5" r="9.35"/>
<circle class="cP" cx="1161.75" cy="1130" r="9.35"/>
<circle class="cO" cx="1147.5" cy="1146.25" r="9.35"/>
<circle class="cP" cx="1133.25" cy="1156.5" r="9.35"/>
<circle class="cP" cx="1170.25" cy="1178.5" r="9.35"/>
<circle class="cP" cx="1190" cy="1103" r="9.35"/>
<circle class="cB" cx="1190" cy="1088" r="9.35"/>
<circle class="cO" cx="1190" cy="1120" r="9.35"/>
<circle class="cB" cx="1218.75" cy="1111" r="9.35"/>
<circle class="cO" cx="1210" cy="1123.25" r="9.35"/>
<circle class="cB" cx="1218.25" cy="1144" r="9.35"/>
<circle class="cM" cx="1235.25" cy="1144.75" r="9.35"/>
<circle class="cP" cx="1261" cy="1143.5" r="9.35"/>
<circle class="cM" cx="1246.5" cy="1080.5" r="9.35"/>
<circle class="cM" cx="1179" cy="1069" r="9.35"/>
<circle class="cM" cx="1190" cy="1061" r="9.35"/>
<circle class="cO" cx="1193" cy="1035" r="9.35"/>
<circle class="cO" cx="1178.5" cy="1045.5" r="9.35"/>
<circle class="cP" cx="1204" cy="1043.5" r="9.35"/>
<circle class="cM" cx="1218.5" cy="1048" r="9.35"/>
<circle class="cO" cx="1218" cy="1030" r="9.35"/>
<circle class="cM" cx="1247.5" cy="1034" r="9.35"/>
<circle class="cO" cx="1235.5" cy="1040.5" r="9.35"/>
<circle class="cO" cx="1233" cy="1035" r="9.35"/>
<circle class="cB" cx="1233" cy="1001.5" r="9.35"/>
<circle class="cM" cx="1218.5" cy="1004.5" r="9.35"/>
<circle class="cM" cx="1218.5" cy="1016" r="9.35"/>
<circle class="cM" cx="1261" cy="1018.5" r="9.35"/>
<circle class="cM" cx="1247" cy="984" r="9.35"/>
<circle class="cM" cx="1247" cy="953.75" r="9.35"/>
<circle class="cB" cx="1261.25" cy="924.25" r="9.35"/>
<circle class="cB" cx="1275" cy="961" r="9.35"/>
<circle class="cM" cx="1268" cy="992" r="9.35"/>
<circle class="cO" cx="1275" cy="991.5" r="9.35"/>
<circle class="cM" cx="1289.25" cy="874.25" r="9.35"/>
<circle class="cO" cx="1289.25" cy="890" r="9.35"/>
<circle class="cO" cx="1289.25" cy="937" r="9.35"/>
<circle class="cM" cx="1303.25" cy="947.5" r="9.35"/>
<circle class="cM" cx="1317.5" cy="960" r="9.35"/>
<circle class="cM" cx="1323.25" cy="906.75" r="9.35"/>
<circle class="cB" cx="1348.75" cy="922.5" r="9.35"/>
<circle class="cM" cx="1346.25" cy="908.25" r="9.35"/>
<circle class="cP" cx="1343.75" cy="883.75" r="9.35"/>
<circle class="cP" cx="1360.75" cy="877.5" r="9.35"/>
<circle class="cB" cx="1354.5" cy="886.25" r="9.35"/>
<circle class="cP" cx="1397" cy="852.5" r="9.35"/>
<circle class="cB" cx="1445.25" cy="858.25" r="9.35"/>
<circle class="cO" cx="1360.25" cy="952" r="9.35"/>
<circle class="cM" cx="1388.75" cy="948.75" r="9.35"/>
<circle class="cB" cx="1417" cy="945.75" r="9.35"/>
<circle class="cO" cx="1587" cy="935" r="9.35"/>
<circle class="cO" cx="1400" cy="968" r="9.35"/>
<circle class="cB" cx="1431" cy="983" r="9.35"/>
<circle class="cO" cx="1445" cy="976" r="9.35"/>
<circle class="cB" cx="1487.5" cy="981.5" r="9.35"/>
<circle class="cP" cx="1326.5" cy="983" r="9.35"/>
<circle class="cM" cx="1312" cy="1019.5" r="9.35"/>
<circle class="cB" cx="1332" cy="1011" r="9.35"/>
<circle class="cM" cx="1327" cy="1030" r="9.35"/>
<circle class="cM" cx="1316" cy="1043" r="9.35"/>
<circle class="cB" cx="1320" cy="1049.5" r="9.35"/>
<circle class="cB" cx="1332" cy="1061" r="9.35"/>
<circle class="cB" cx="1332" cy="1059" r="9.35"/>
<circle class="cO" cx="1332" cy="1045" r="9.35"/>
<circle class="cP" cx="1303.5" cy="1052.5" r="9.35"/>
<circle class="cP" cx="1298" cy="1060.5" r="9.35"/>
<circle class="cM" cx="1304" cy="1071" r="9.35"/>
<circle class="cM" cx="1292" cy="1084" r="9.35"/>
<circle class="cM" cx="1303.5" cy="1094" r="9.35"/>
<circle class="cB" cx="1318" cy="1091" r="9.35"/>
<circle class="cO" cx="1275" cy="1047" r="9.35"/>
<circle class="cM" cx="1275" cy="1039" r="9.35"/>
<circle class="cM" cx="1275" cy="1062" r="9.35"/>
<circle class="cM" cx="1374.5" cy="1023" r="9.35"/>
<circle class="cB" cx="1403" cy="1009" r="9.35"/>
<circle class="cO" cx="1420" cy="1029" r="9.35"/>
<circle class="cB" cx="1417" cy="1026.5" r="9.35"/>
<circle class="cO" cx="1431" cy="1023" r="9.35"/>
<circle class="cB" cx="1451" cy="1025.5" r="9.35"/>
<circle class="cO" cx="1388.5" cy="1052.5" r="9.35"/>
<circle class="cB" cx="1388.5" cy="1041.5" r="9.35"/>
<circle class="cM" cx="1360" cy="1070" r="9.35"/>
<circle class="cB" cx="1366" cy="1058" r="9.35"/>
<circle class="cM" cx="1366" cy="1081" r="9.35"/>
<circle class="cM" cx="1360.5" cy="1079.5" r="9.35"/>
<circle class="cB" cx="1360" cy="1095.5" r="9.35"/>
<circle class="cB" cx="1374.5" cy="1114" r="9.35"/>
<circle class="cB" cx="1403" cy="1072" r="9.35"/>
<circle class="cB" cx="1417" cy="1074.5" r="9.35"/>
<circle class="cO" cx="1448" cy="1065" r="9.35"/>
<circle class="cB" cx="1474" cy="1048.5" r="9.35"/>
<circle class="cB" cx="1303.25" cy="1130" r="9.35"/>
<circle class="cM" cx="1331.75" cy="1131.25" r="9.35"/>
<circle class="cP" cx="1303.25" cy="1171" r="9.35"/>
<circle class="cB" cx="1309.25" cy="1156" r="9.35"/>
<circle class="cO" cx="1218.25" cy="1303.25" r="9.35"/>
</g>
<path class="rl" stroke-dasharray="16.4 26.1" stroke-dashoffset="-0.3" d="M950 1105.27L1634.5 955.71"/>
</g>
<rect class="fr" x="949.7" y="767.3" width="684.6" height="612.9"/>
<path class="tk" d="M975.03 1380.2V1396.7M1077.28 1380.2V1396.7M1179.53 1380.2V1396.7M1281.78 1380.2V1396.7M1384.03 1380.2V1396.7M1486.28 1380.2V1396.7M1588.53 1380.2V1396.7M949.7 1357.57H933.2M949.7 1276.44H933.2M949.7 1195.31H933.2M949.7 1114.18H933.2M949.7 1033.05H933.2M949.7 951.92H933.2M949.7 870.79H933.2M949.7 789.66H933.2"/>
<text class="ax" text-anchor="middle" transform="translate(975.03 1440.7) scale(1 1.06)">−3</text>
<text class="ax" text-anchor="middle" transform="translate(1077.28 1440.7) scale(1 1.06)">−2</text>
<text class="ax" text-anchor="middle" transform="translate(1179.53 1440.7) scale(1 1.06)">−1</text>
<text class="ax" text-anchor="middle" transform="translate(1281.78 1440.7) scale(1 1.06)">0</text>
<text class="ax" text-anchor="middle" transform="translate(1384.03 1440.7) scale(1 1.06)">1</text>
<text class="ax" text-anchor="middle" transform="translate(1486.28 1440.7) scale(1 1.06)">2</text>
<text class="ax" text-anchor="middle" transform="translate(1588.53 1440.7) scale(1 1.06)">3</text>
<text class="ax" text-anchor="middle" transform="translate(909.5 1357.57) rotate(-90) scale(1 1.06)">−4</text>
<text class="ax" text-anchor="middle" transform="translate(909.5 1276.44) rotate(-90) scale(1 1.06)">−3</text>
<text class="ax" text-anchor="middle" transform="translate(909.5 1195.31) rotate(-90) scale(1 1.06)">−2</text>
<text class="ax" text-anchor="middle" transform="translate(909.5 1114.18) rotate(-90) scale(1 1.06)">−1</text>
<text class="ax" text-anchor="middle" transform="translate(909.5 1033.05) rotate(-90) scale(1 1.06)">0</text>
<text class="ax" text-anchor="middle" transform="translate(909.5 951.92) rotate(-90) scale(1 1.06)">1</text>
<text class="ax" text-anchor="middle" transform="translate(909.5 870.79) rotate(-90) scale(1 1.06)">2</text>
<text class="ax" text-anchor="middle" transform="translate(909.5 789.66) rotate(-90) scale(1 1.06)">3</text>
<text class="ttl" text-anchor="middle" transform="translate(487.75 40.7) scale(1.031 1)">Productivity</text>
<text class="ttl" text-anchor="middle" transform="translate(1292.9 40.7) scale(1.031 1)">Body size</text>
<text class="lab" text-anchor="middle" x="487.1" y="1507.7">Productivity</text>
<text class="lab" text-anchor="middle" x="1292.6" y="1507.7">Body size</text>
<g transform="translate(38.9 356) rotate(-90)">
<text class="lab" x="-102" y="0">residual</text>
<text class="lab" transform="translate(32.3 0) scale(0.9 1)">δ</text>
<text class="sup" transform="translate(49.5 -17.5) scale(1 1.05)">13</text>
<text class="lab" transform="translate(77.4 0) scale(0.96 1.04)">C</text>
</g>
<g transform="translate(38.9 1073.75) rotate(-90)">
<text class="lab" x="-102" y="0">residual</text>
<text class="lab" transform="translate(32.3 0) scale(0.9 1)">δ</text>
<text class="sup" transform="translate(49.5 -17.5) scale(1 1.05)">15</text>
<text class="lab" transform="translate(77.4 0) scale(0.96 1.04)">N</text>
</g>
<g class="pt">
<circle class="cP" cx="1687.5" cy="105.05" r="7.9" style="stroke-width:2.9"/>
<circle class="cM" cx="1687.5" cy="148.9" r="7.9" style="stroke-width:2.9"/>
<circle class="cO" cx="1687.5" cy="192.7" r="7.9" style="stroke-width:2.9"/>
<circle class="cB" cx="1687.5" cy="236.6" r="7.9" style="stroke-width:2.9"/>
</g>
<text class="lab" x="1721.6" y="117.65"><tspan font-style="italic">C. marthae</tspan><tspan dx="2">: F</tspan></text>
<text class="lab" x="1721.6" y="161.5"><tspan font-style="italic">C. marthae</tspan><tspan dx="2">: M</tspan></text>
<text class="lab" x="1721.6" y="205.3"><tspan font-style="italic">C. subcristatus</tspan><tspan dx="2">: F</tspan></text>
<text class="lab" x="1721.6" y="249.2"><tspan font-style="italic">C. subcristatus</tspan><tspan dx="2">: M</tspan></text>
</svg></body></html>
